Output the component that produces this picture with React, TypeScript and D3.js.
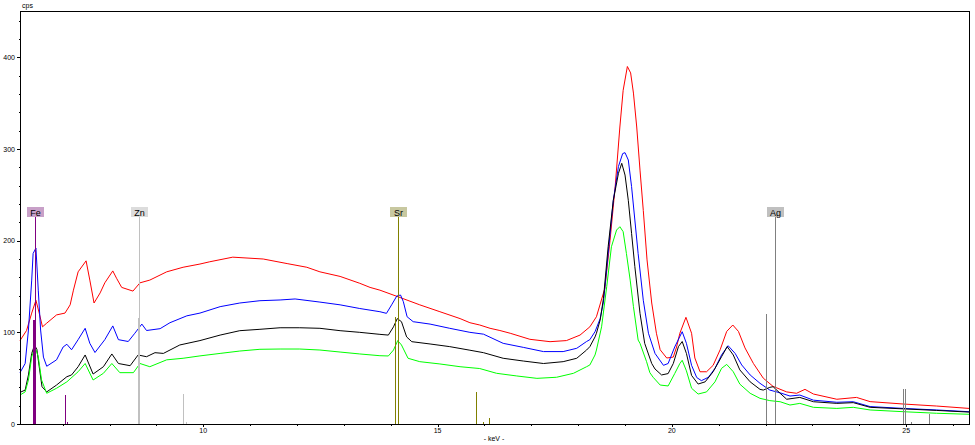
import React from "react";
import * as d3 from "d3";

// Spectra: [keV, cps]
const redSeries: [number, number][] = [
  [6.09,91],[6.23,102],[6.34,121],[6.43,135],[6.50,121],[6.57,106],[6.66,110],[6.87,119],[7.05,121],[7.16,130],[7.23,146],[7.33,166],[7.50,178],[7.58,157],[7.67,132],[7.80,143],[7.90,154],[8.07,167],[8.15,159],[8.26,149],[8.50,145],[8.65,154],[8.86,157],[9.22,166],[9.57,171],[9.93,174.5],[10.14,177],[10.63,182],[11.28,180],[11.79,175],[12.21,171],[12.49,166],[12.92,161],[13.34,153.5],[13.56,149],[13.77,146],[14.20,138],[14.62,130],[15.05,122.5],[15.48,115],[15.69,110.5],[15.90,108],[16.12,104.4],[16.33,102],[16.55,99],[16.97,92.4],[17.40,89.8],[17.75,91],[18.04,97],[18.25,106],[18.39,117],[18.57,148],[18.68,200],[18.79,259],[18.89,324],[18.96,364],[19.05,390],[19.12,383],[19.18,361],[19.25,324],[19.32,277],[19.39,233],[19.47,179],[19.57,132],[19.67,99],[19.75,81],[19.89,72],[20.03,73],[20.10,84],[20.17,99],[20.30,116.4],[20.42,99],[20.49,72],[20.60,57],[20.74,57],[20.88,64],[21.03,81],[21.17,101],[21.30,108],[21.42,101],[21.56,83],[21.74,66],[21.95,50],[22.16,41],[22.45,35],[22.66,33.5],[22.84,37.8],[23.02,32.7],[23.52,27],[23.94,29],[24.23,24.4],[24.94,21.8],[25.65,19.6],[26.34,17]
];
const blueSeries: [number, number][] = [
  [6.09,56],[6.20,66],[6.27,102.5],[6.34,157],[6.37,186],[6.43,192],[6.48,146],[6.53,102.5],[6.59,73],[6.66,63],[6.87,70],[7.01,84],[7.09,87],[7.19,81],[7.33,92],[7.48,104.4],[7.58,88],[7.69,78],[7.90,92],[8.07,107],[8.19,92],[8.40,90],[8.54,99],[8.69,109],[8.79,102],[9.08,104],[9.29,110.5],[9.65,118],[9.93,121],[10.36,128],[10.78,132],[11.21,134.5],[11.64,135.3],[11.96,136.4],[12.49,133],[12.92,130],[13.34,126],[13.77,122.5],[13.91,120.7],[14.02,130],[14.13,139.6],[14.21,140.7],[14.27,133.4],[14.35,117],[14.48,111.6],[14.84,109],[15.26,104.4],[15.69,100],[15.98,98],[16.40,88],[16.83,83.6],[17.26,79],[17.68,79],[17.97,82.6],[18.18,90],[18.25,92],[18.36,100.7],[18.47,115],[18.54,133],[18.64,186],[18.75,244],[18.86,281],[18.95,295],[19.00,296],[19.07,288],[19.14,259],[19.21,222.5],[19.28,186],[19.39,135],[19.50,99],[19.64,77],[19.82,64],[19.92,66],[20.06,84],[20.22,100.7],[20.31,88],[20.42,64],[20.53,50.7],[20.63,47.3],[20.78,51],[20.92,60.7],[21.06,75.3],[21.20,85.4],[21.35,77],[21.49,64.4],[21.67,53.5],[21.88,44.4],[22.09,37],[22.31,34],[22.52,30.5],[22.73,31.6],[23.02,26],[23.52,23.7],[23.87,24.3],[24.23,19],[24.94,17],[25.65,15.3],[26.34,13.4]
];
const blackSeries: [number, number][] = [
  [6.09,34.5],[6.20,37],[6.27,53.5],[6.34,77],[6.40,86],[6.45,81.5],[6.50,62.5],[6.56,40.7],[6.66,35],[6.87,42.5],[7.09,51.6],[7.19,53.5],[7.33,62.5],[7.48,75.3],[7.65,54.5],[7.87,62.5],[8.05,76.4],[8.19,66],[8.44,63.6],[8.61,75.3],[8.79,73.4],[8.97,77.8],[9.15,77],[9.50,86.2],[9.93,91],[10.36,97],[10.78,101.8],[11.21,103.3],[11.64,105],[12.06,105],[12.49,104.4],[12.92,101.8],[13.34,100],[13.77,97.8],[13.95,97],[14.06,106],[14.14,115],[14.23,111.6],[14.34,95],[14.45,89.8],[14.84,87.3],[15.26,84.4],[15.69,80.5],[15.98,77.8],[16.40,71.7],[16.83,68.7],[17.26,66],[17.68,68],[17.97,71.7],[18.18,80.7],[18.25,84.4],[18.36,95],[18.39,99],[18.47,113.5],[18.54,137],[18.64,193.4],[18.75,244],[18.86,273.5],[18.93,284.4],[19.00,271.6],[19.07,244],[19.14,208],[19.21,171.6],[19.32,120.7],[19.42,88],[19.57,66],[19.64,60],[19.78,53.5],[19.92,55],[20.03,66],[20.14,84.4],[20.22,90],[20.31,77],[20.42,53],[20.56,43.6],[20.71,46],[20.88,57],[21.06,73.4],[21.18,84.4],[21.31,75.3],[21.45,59],[21.67,46],[21.88,37.8],[21.95,37],[22.09,40],[22.16,40.7],[22.31,33.5],[22.45,27],[22.73,29],[23.02,24.3],[23.52,22.5],[23.87,23.3],[24.23,18.2],[24.94,16.5],[25.65,14.8],[26.34,13]
];
const greenSeries: [number, number][] = [
  [6.09,31.6],[6.20,35],[6.27,48],[6.34,73.4],[6.41,84.4],[6.48,73.4],[6.55,48],[6.66,33.5],[6.87,39],[7.09,46],[7.33,57],[7.48,66],[7.65,48],[7.87,55.3],[8.05,66],[8.22,56],[8.51,56],[8.65,66],[8.86,62.5],[9.22,70],[9.57,71.7],[9.93,74.3],[10.36,77],[10.78,79.6],[11.21,81.5],[11.64,81.8],[12.06,81.8],[12.49,80.7],[12.92,78.5],[13.34,76.4],[13.77,74.5],[13.95,74.2],[14.06,80.7],[14.15,91],[14.23,86.2],[14.37,71.7],[14.62,68],[15.05,65.5],[15.48,62.5],[15.90,60.5],[16.26,55.3],[16.69,52.4],[17.12,49.8],[17.54,51],[17.90,55.3],[18.18,62.5],[18.25,64.4],[18.36,75.3],[18.39,80.7],[18.50,106],[18.61,150],[18.71,193.4],[18.82,211.6],[18.89,215.2],[18.96,209.8],[19.03,186],[19.11,157],[19.18,128],[19.28,91.6],[19.32,88],[19.46,68],[19.53,56],[19.60,51],[19.75,42.5],[19.92,41.5],[20.06,55],[20.17,66],[20.22,69.5],[20.31,58],[20.42,39],[20.56,32.7],[20.74,35],[20.92,46],[21.06,60.7],[21.17,65],[21.31,57],[21.45,43.5],[21.67,33.5],[21.88,28],[22.09,25.5],[22.31,24.3],[22.52,20.7],[22.73,22.5],[23.02,18.2],[23.52,17],[23.87,18.2],[24.23,15.3],[24.94,13.4],[25.65,11.7],[26.34,10.6]
];

// Element line markers
const elementNames = ["Fe", "Zn", "Sr", "Ag"];
const elementLabelKeV = [6.40, 8.63, 14.165, 22.2];
const elementLineKeV = [
  [6.40, 7.06, 7.11],
  [8.63, 9.57, 9.65],
  [14.10, 15.84, 15.99, 16.10],
  [22.02, 24.936, 24.978, 25.115, 25.49, 25.505],
];
const elementLineCps = [
  [113, 31.6, 2.5],
  [116, 32.7, 2.5],
  [117, 35, 2, 6.5],
  [120, 38, 38, 2.5, 11, 2.5],
];

// Axis ticks
const xMinorTicks = [7, 8, 9, 10, 11, 12, 13, 14, 15, 16, 17, 18, 19, 20, 21, 22, 23, 24, 25, 26];
const xTickLabels = [10, 15, 20, 25];
const yMinorTicks = [20, 40, 60, 80, 120, 140, 160, 180, 220, 240, 260, 280, 320, 340, 360, 380, 420, 440];
const yTickLabels = [0, 100, 200, 300, 400];

const seriesColors = ["#ff0000", "#0000ff", "#000000", "#00ff00"];
const elementStyle: Record<string, { line: string; box: string; mainWidth: number }> = {
  Fe: { line: "#800080", box: "#c8a0c8", mainWidth: 2.5 },
  Zn: { line: "#c0c0c0", box: "#dcdcdc", mainWidth: 2 },
  Sr: { line: "#808000", box: "#c8c8a0", mainWidth: 1.5 },
  Ag: { line: "#808080", box: "#c0c0c0", mainWidth: 1 },
};

const W = 975, H = 445;
const L = 20, R = 969, T = 11, B = 424;
const FONT = "'Liberation Sans', Arial, sans-serif";

export default function App() {
  const x = d3.scaleLinear().domain([6.09, 26.34]).range([L, R]);
  const y = d3.scaleLinear().domain([0, 450]).range([B, T + 0.5]);
  const line = d3.line<[number, number]>().x((d) => x(d[0])).y((d) => y(d[1]));
  const allSeries = [redSeries, blueSeries, blackSeries, greenSeries];
  const labelTop = 207;
  const labelH = 10;
  const labelW = 17;

  return (
    <svg width={W} height={H} style={{ position: "absolute", left: 0, top: 0, background: "#fff" }}>
      <rect x={0} y={0} width={W} height={H} fill="#fff" />
      {/* spectra */}
      <g fill="none" strokeWidth={1}>
        {allSeries.map((s, i) => (
          <path key={i} d={line(s) || ""} stroke={seriesColors[i]} strokeLinejoin="round" />
        ))}
      </g>
      {/* element markers */}
      {elementNames.map((name, ei) => {
        const st = elementStyle[name];
        const lx = Math.round(x(elementLabelKeV[ei])) + 0.5;
        return (
          <g key={name} shapeRendering="crispEdges">
            {elementLineKeV[ei].map((k, li) => (
              <line
                key={li}
                x1={x(k)}
                x2={x(k)}
                y1={B}
                y2={y(elementLineCps[ei][li])}
                stroke={st.line}
                strokeWidth={li === 0 ? st.mainWidth : 1}
              />
            ))}
            <line x1={lx} x2={lx} y1={B} y2={labelTop + labelH} stroke={st.line} strokeWidth={1} />
            <rect x={lx - labelW / 2} y={labelTop} width={labelW} height={labelH} fill={st.box} />
            <text x={lx} y={labelTop + 8.5} textAnchor="middle" fontFamily={FONT} fontSize={9} fill="#000">
              {name}
            </text>
          </g>
        );
      })}
      {/* frame */}
      <g shapeRendering="crispEdges" stroke="#000" strokeWidth={1} fill="none">
        <rect x={L + 0.5} y={T + 0.5} width={R - L} height={B - T} />
      </g>
      {/* x ticks */}
      <g shapeRendering="crispEdges" stroke="#000">
        {xMinorTicks.map((t) => (
          <line key={t} x1={Math.round(x(t)) + 0.5} x2={Math.round(x(t)) + 0.5} y1={B} y2={B + (xTickLabels.includes(t) ? 3 : 2)} />
        ))}
      </g>
      {xTickLabels.map((t) => (
        <text key={t} x={x(t)} y={433} textAnchor="middle" fontFamily={FONT} fontSize={7} fill="#000">
          {t}
        </text>
      ))}
      <text x={494} y={441} textAnchor="middle" fontFamily={FONT} fontSize={7} fill="#000">
        - keV -
      </text>
      {/* y ticks */}
      <g shapeRendering="crispEdges" stroke="#000">
        {yMinorTicks.map((t) => (
          <line key={t} x1={L - 1} x2={L} y1={Math.round(y(t)) + 0.5} y2={Math.round(y(t)) + 0.5} />
        ))}
        {yTickLabels.map((t) => (
          <line key={t} x1={L - 3} x2={L} y1={Math.round(y(t)) + 0.5} y2={Math.round(y(t)) + 0.5} />
        ))}
      </g>
      {yTickLabels.map((t) => (
        <text key={t} x={15} y={y(t) + 2.5} textAnchor="end" fontFamily={FONT} fontSize={7} fill="#000">
          {t}
        </text>
      ))}
      <text x={22} y={8} fontFamily={FONT} fontSize={7} fill="#000">
        cps
      </text>
    </svg>
  );
}
